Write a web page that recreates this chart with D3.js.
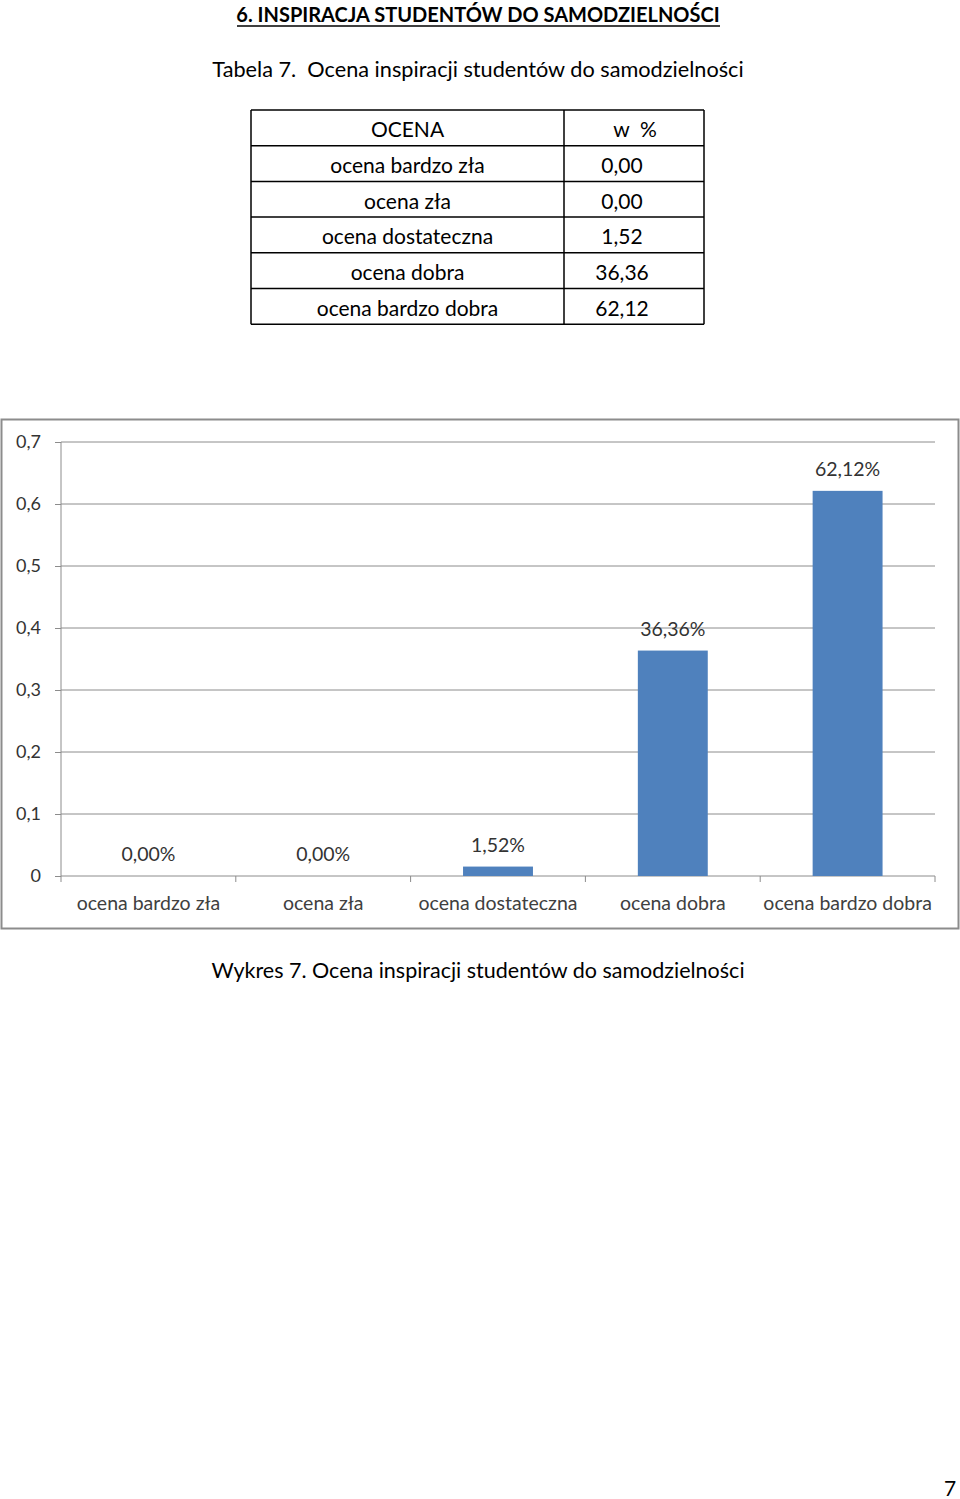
<!DOCTYPE html>
<html><head><meta charset="utf-8">
<script src="https://cdn.jsdelivr.net/npm/d3@7"></script>
<style>
html,body{margin:0;padding:0;background:#fff;}
svg{display:block;}
text{white-space:pre;}
</style></head>
<body>
<svg id="page" width="960" height="1499"></svg>
<script>
const categories = ["ocena bardzo zła","ocena zła","ocena dostateczna","ocena dobra","ocena bardzo dobra"];
const values = [0.00, 0.00, 1.52, 36.36, 62.12];
const valueLabels = ["0,00","0,00","1,52","36,36","62,12"];
const yTicks = [0,0.1,0.2,0.3,0.4,0.5,0.6,0.7];
const tableHeader = ["OCENA","w  %"];

(function(){
const FONT = "Lato, 'Open Sans', sans-serif";
const svg = d3.select("#page");

svg.append("text").attr("x",478).attr("y",22).attr("text-anchor","middle")
  .attr("font-family",FONT).attr("font-weight","bold").attr("font-size",20).attr("fill","#000")
  .text("6. INSPIRACJA STUDENTÓW DO SAMODZIELNOŚCI");
svg.append("line").attr("x1",237).attr("x2",720).attr("y1",26).attr("y2",26).attr("stroke","#000").attr("stroke-width",1.5);

svg.append("text").attr("x",478).attr("y",77).attr("text-anchor","middle")
  .attr("font-family",FONT).attr("font-size",21.7).attr("fill","#000")
  .text("Tabela 7.  Ocena inspiracji studentów do samodzielności");

// Table
const tx0=251, tx1=564, tx2=704, ty0=110, rowH=35.7;
const rows = [tableHeader].concat(categories.map((c,i)=>[c,valueLabels[i]]));
const tbl = svg.append("g");
rows.forEach((r,i)=>{
  const yy = ty0 + i*rowH;
  tbl.append("text").attr("x",(tx0+tx1)/2).attr("y",yy+rowH/2+9.5).attr("text-anchor","middle")
    .attr("font-family",FONT).attr("font-size",21).attr("fill","#000").text(r[0]);
  tbl.append("text").attr("x", i===0?635:622).attr("y",yy+rowH/2+9.5).attr("text-anchor","middle")
    .attr("font-family",FONT).attr("font-size",21).attr("fill","#000").text(r[1]);
});
for(let i=0;i<=rows.length;i++){
  tbl.append("line").attr("x1",tx0).attr("x2",tx2).attr("y1",ty0+i*rowH).attr("y2",ty0+i*rowH).attr("stroke","#000").attr("stroke-width",1.5);
}
[tx0,tx1,tx2].forEach(xx=>tbl.append("line").attr("x1",xx).attr("x2",xx).attr("y1",ty0).attr("y2",ty0+rows.length*rowH).attr("stroke","#000").attr("stroke-width",1.5));

// Chart frame
svg.append("rect").attr("x",1.5).attr("y",419.5).attr("width",957).attr("height",509)
  .attr("fill","#fff").attr("stroke","#8c8c8c").attr("stroke-width",2);

const pL=61, pR=935, pT=442, pB=876;
const x = d3.scaleBand().domain(categories).range([pL,pR]).paddingInner(0.6).paddingOuter(0.3);
const xb = d3.scaleBand().domain(categories).range([pL,pR]);
const y = d3.scaleLinear().domain([0,0.7]).range([pB,pT]);
const fmt = d => String(d).replace(".",",");

const g = svg.append("g");
g.selectAll("line.grid").data(yTicks.filter(d=>d>0)).enter().append("line")
  .attr("x1",pL).attr("x2",pR).attr("y1",d=>y(d)).attr("y2",d=>y(d))
  .attr("stroke","#8c8c8c").attr("stroke-width",1);

const ya = g.append("g").attr("transform",`translate(${pL},0)`)
  .call(d3.axisLeft(y).tickValues(yTicks).tickFormat(fmt).tickSize(6).tickPadding(14));
ya.select(".domain").attr("stroke","#8c8c8c").attr("d",`M0,${pB}V${pT}`);
ya.selectAll(".tick line").attr("stroke","#8c8c8c");
ya.selectAll("text").attr("font-family",FONT).attr("font-size",18).attr("fill","#333");

const xa = g.append("g").attr("transform",`translate(0,${pB})`)
  .call(d3.axisBottom(xb).tickSize(0).tickPadding(20));
xa.select(".domain").attr("stroke","#8c8c8c").attr("d",`M${pL},0H${pR}`);
xa.selectAll("text").attr("font-family",FONT).attr("font-size",19.5).attr("fill","#404040").attr("dy","0.35em").attr("y",27);
const bounds = categories.map(c=>xb(c)).concat([pR]);
g.selectAll("line.xt").data(bounds).enter().append("line")
  .attr("x1",d=>d).attr("x2",d=>d).attr("y1",pB).attr("y2",pB+6).attr("stroke","#8c8c8c");

g.selectAll("rect.bar").data(values).enter().append("rect")
  .attr("x",(d,i)=>x(categories[i])).attr("width",x.bandwidth())
  .attr("y",d=>y(d/100)).attr("height",d=>pB-y(d/100)).attr("fill","#4F81BD");

g.selectAll("text.lbl").data(values).enter().append("text")
  .attr("x",(d,i)=>x(categories[i])+x.bandwidth()/2)
  .attr("y",d=>y(d/100)-15).attr("text-anchor","middle")
  .attr("font-family",FONT).attr("font-size",19.5).attr("fill","#333")
  .text((d,i)=>valueLabels[i]+"%");

svg.append("text").attr("x",478).attr("y",978).attr("text-anchor","middle")
  .attr("font-family",FONT).attr("font-size",21.5).attr("fill","#000")
  .text("Wykres 7. Ocena inspiracji studentów do samodzielności");

svg.append("text").attr("x",950).attr("y",1496).attr("text-anchor","middle")
  .attr("font-family",FONT).attr("font-size",21).attr("fill","#000").text("7");
})();
</script>
</body></html>
